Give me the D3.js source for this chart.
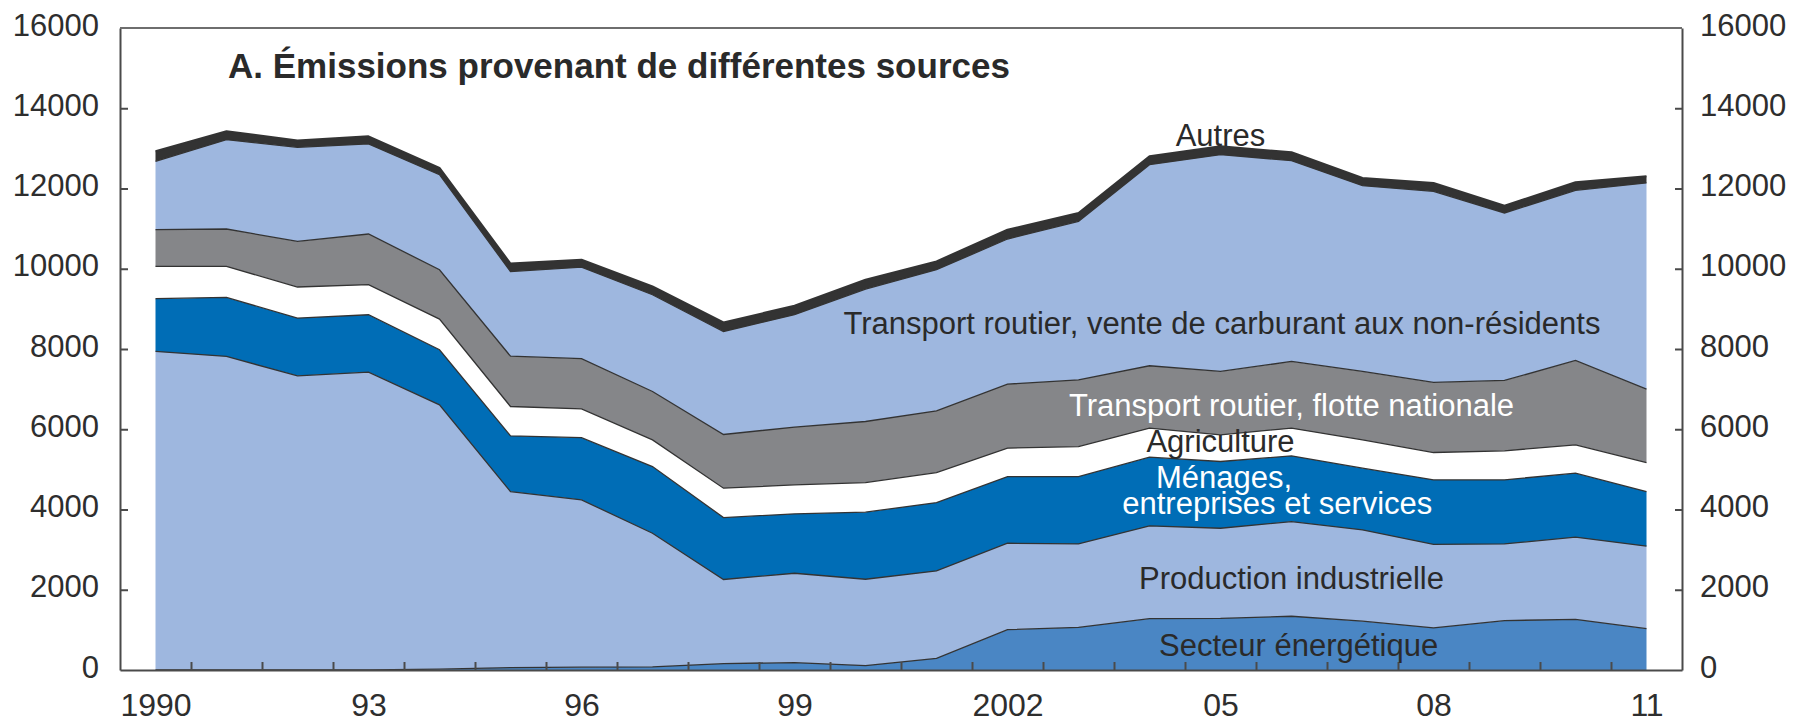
<!DOCTYPE html>
<html lang="fr">
<head>
<meta charset="UTF-8">
<title>Émissions provenant de différentes sources</title>
<script src="https://d3js.org/d3.v7.min.js"></script>
<style>
    body, html {
        margin: 0;
        padding: 0;
        background: #ffffff;
        overflow: hidden;
    }
    svg {
        font-family: "Liberation Sans", Arial, Helvetica, sans-serif;
    }
    .axis path, .axis line {
        stroke: #4a4a4a;
        stroke-width: 2px;
    }
    .axis text {
        fill: #2e2e2e;
        font-size: 31px;
    }
    .lbl {
        font-size: 31px;
        text-anchor: middle;
    }
</style>
</head>
<body>
<div id="chart"></div>
<script>
// --- data ---
const years = [1990, 1991, 1992, 1993, 1994, 1995, 1996, 1997, 1998, 1999, 2000,
               2001, 2002, 2003, 2004, 2005, 2006, 2007, 2008, 2009, 2010, 2011];

const energie     = [0, 0, 0, 0, 20, 60, 70, 80, 160, 185, 110, 290, 1005, 1064, 1280, 1289, 1340, 1218, 1050, 1230, 1264, 1030];
const industrie   = [7939, 7814, 7332, 7424, 6589, 4387, 4170, 3329, 2095, 2226, 2152, 2180, 2155, 2078, 2311, 2244, 2359, 2274, 2080, 1912, 2045, 2055];
const menages     = [1314, 1472, 1439, 1430, 1372, 1389, 1550, 1662, 1544, 1480, 1671, 1703, 1661, 1679, 1713, 1663, 1638, 1538, 1609, 1597, 1596, 1362];
const agriculture = [806, 773, 774, 748, 765, 731, 720, 665, 732, 723, 739, 748, 708, 748, 724, 665, 691, 706, 681, 723, 707, 724];
const flotte      = [915, 932, 1137, 1264, 1230, 1253, 1250, 1205, 1339, 1439, 1521, 1538, 1596, 1663, 1554, 1579, 1662, 1704, 1746, 1754, 2103, 1829];
const vente       = [1703, 2227, 2344, 2245, 2369, 2110, 2280, 2411, 2567, 2801, 3301, 3517, 3616, 3951, 5013, 5404, 5004, 4631, 4763, 4174, 4239, 5138];
const autres      = [250, 208, 170, 190, 167, 200, 185, 208, 225, 224, 233, 208, 233, 207, 207, 207, 208, 192, 209, 182, 200, 165];

const yTicks = [0, 2000, 4000, 6000, 8000, 10000, 12000, 14000, 16000];
const xLabelYears = [1990, 1993, 1996, 1999, 2002, 2005, 2008, 2011];
const xLabelText  = ["1990", "93", "96", "99", "2002", "05", "08", "11"];

const title = "A. Émissions provenant de différentes sources";

// --- layout ---
const W = 1805, H = 723;
const plotL = 120, plotR = 1682, plotT = 28, plotB = 670;

const svg = d3.select("#chart").append("svg")
    .attr("width", W)
    .attr("height", H);

const x = d3.scaleLinear().domain([1989.5, 2011.5]).range([plotL, plotR]);
const y = d3.scaleLinear().domain([0, 16000]).range([plotB, plotT]);

const keys = ["energie", "industrie", "menages", "agriculture", "flotte", "vente", "autres"];
const colors = {
    energie: "#4a86c4",
    industrie: "#9eb7df",
    menages: "#006db6",
    agriculture: "#ffffff",
    flotte: "#858689",
    vente: "#9eb7df",
    autres: "#333333"
};
const series = { energie, industrie, menages, agriculture, flotte, vente, autres };

const table = years.map((yr, i) => {
    const row = { year: yr };
    keys.forEach(k => row[k] = series[k][i]);
    return row;
});

const stacked = d3.stack().keys(keys)(table);

const area = d3.area()
    .x(d => x(d.data.year))
    .y0(d => y(d[0]))
    .y1(d => y(d[1]));

const topLine = d3.line()
    .x(d => x(d.data.year))
    .y(d => y(d[1]));

svg.append("g").selectAll("path")
    .data(stacked)
    .enter().append("path")
    .attr("d", area)
    .attr("fill", d => colors[d.key]);

// thin borders between layers
svg.append("g").selectAll("path")
    .data(stacked.filter(s => s.key !== "autres"))
    .enter().append("path")
    .attr("d", topLine)
    .attr("fill", "none")
    .attr("stroke", "#333")
    .attr("stroke-width", 1.3);

// the "Autres" band edge
svg.append("path")
    .datum(stacked[stacked.length - 1])
    .attr("d", topLine)
    .attr("fill", "none")
    .attr("stroke", "#333")
    .attr("stroke-width", 2)
    .attr("stroke-linejoin", "round");

// --- axes ---
const fmt = d3.format("d");
const yLeft = d3.axisLeft(y).tickValues(yTicks).tickFormat(fmt)
    .tickSize(-8).tickSizeOuter(0).tickPadding(21);
const yRight = d3.axisRight(y).tickValues(yTicks).tickFormat(fmt)
    .tickSize(-7).tickSizeOuter(0).tickPadding(18);

const gl = svg.append("g").attr("class", "axis")
    .attr("transform", `translate(${plotL},0)`)
    .call(yLeft);
const gr = svg.append("g").attr("class", "axis")
    .attr("transform", `translate(${plotR},0)`)
    .call(yRight);
[gl, gr].forEach(g => {
    g.selectAll("text").attr("dy", null).attr("y", 7);
    g.selectAll(".tick").filter(d => d === 16000 || d === 0).select("line").remove();
});

const halfYears = years.slice(0, -1).map(v => v + 0.5);
svg.append("g").attr("class", "axis")
    .attr("transform", `translate(0,${plotB})`)
    .call(d3.axisBottom(x).tickValues(halfYears).tickSize(-8).tickSizeOuter(0).tickFormat(""));

const gx = svg.append("g").attr("class", "axis")
    .attr("transform", `translate(0,${plotB})`)
    .call(d3.axisBottom(x).tickValues(xLabelYears).tickSize(0)
        .tickFormat((d, i) => xLabelText[i]));
gx.select(".domain").remove();
gx.selectAll("text").attr("dy", null).attr("y", 46).style("font-size", "32px");

// top frame
svg.append("line")
    .attr("x1", plotL).attr("x2", plotR)
    .attr("y1", y(16000)).attr("y2", y(16000))
    .attr("stroke", "#6e6e6e")
    .attr("stroke-width", 2);

// --- title ---
svg.append("text")
    .attr("x", 228)
    .attr("y", 78)
    .attr("fill", "#2a2a2a")
    .style("font-size", "35px")
    .style("font-weight", "bold")
    .text(title);

// --- series labels (positioned in data units) ---
const labels = [
    { text: "Autres", yr: 2005.0, v: 13060, fill: "#2a2a2a" },
    { text: "Transport routier, vente de carburant aux non-résidents", yr: 2005.02, v: 8380, fill: "#2a2a2a" },
    { text: "Transport routier, flotte nationale", yr: 2006.0, v: 6330, fill: "#ffffff" },
    { text: "Agriculture", yr: 2005.0, v: 5440, fill: "#2a2a2a" },
    { text: "Ménages,", yr: 2005.05, v: 4540, fill: "#ffffff" },
    { text: "entreprises et services", yr: 2005.8, v: 3890, fill: "#ffffff" },
    { text: "Production industrielle", yr: 2006.0, v: 2020, fill: "#2a2a2a" },
    { text: "Secteur énergétique", yr: 2006.1, v: 350, fill: "#2a2a2a" }
];

svg.append("g").selectAll("text")
    .data(labels)
    .enter().append("text")
    .attr("class", "lbl")
    .attr("x", d => x(d.yr))
    .attr("y", d => y(d.v))
    .attr("fill", d => d.fill)
    .text(d => d.text);
</script>
</body>
</html>
